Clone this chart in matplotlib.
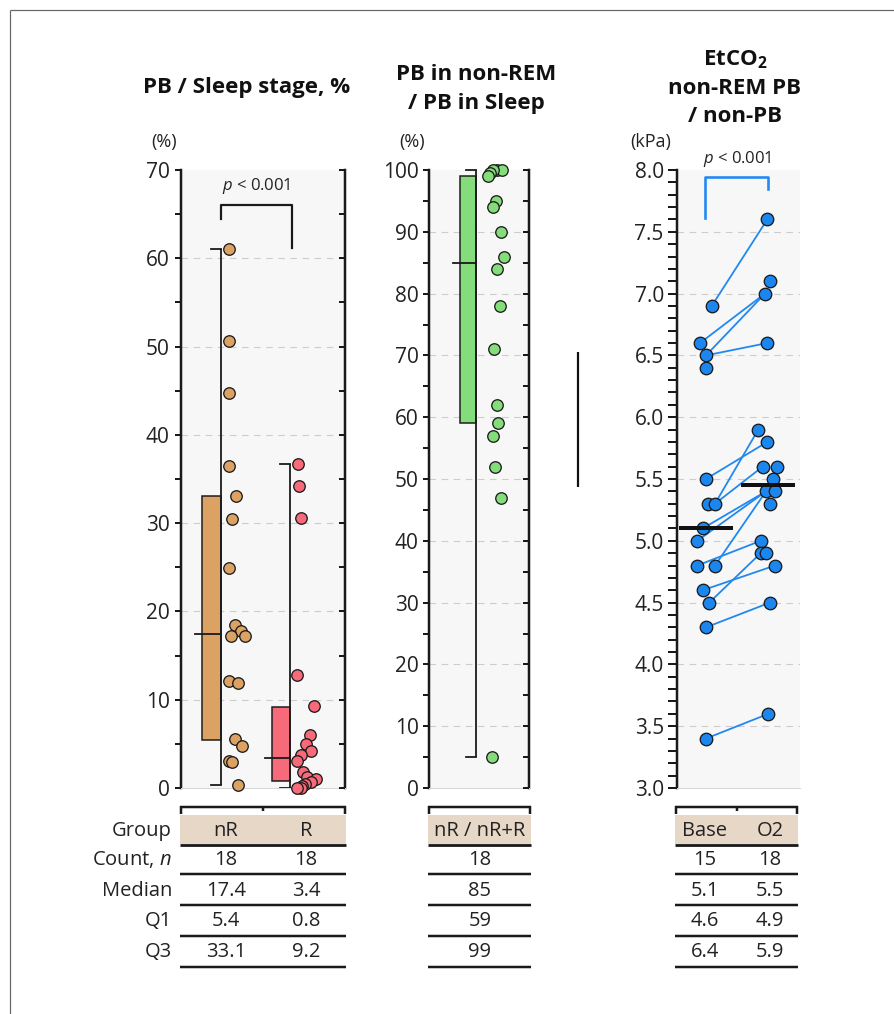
import matplotlib
matplotlib.use('Agg')
import matplotlib.pyplot as plt
from matplotlib.lines import Line2D
from matplotlib.patches import Rectangle
import numpy as np

# ---------------- data ----------------
# Panel 1: PB / Sleep stage (%)
nr_vals = [61.0, 50.6, 44.7, 36.5, 33.1, 30.5, 24.9, 18.5, 17.8, 17.2, 17.2,
           12.1, 11.9, 5.5, 4.8, 3.1, 3.0, 0.3]
r_vals = [36.7, 34.2, 30.6, 12.8, 9.3, 6.0, 5.0, 4.2, 3.7, 3.1, 1.8, 1.2,
          1.0, 0.7, 0.5, 0.2, 0.0, 0.0]
groups1 = ['nR', 'R']
counts1 = [18, 18]
medians1 = [17.4, 3.4]
q1s1 = [5.4, 0.8]
q3s1 = [33.1, 9.2]

# Panel 2: PB in non-REM / PB in Sleep (%)
nrr_vals = [100, 100, 100, 99.5, 99, 95, 94, 90, 86, 84, 78, 71, 62, 59, 57,
            52, 47, 5]
groups2 = ['nR / nR+R']
counts2 = [18]
medians2 = [85]
q1s2 = [59]
q3s2 = [99]

# Panel 3: EtCO2 (kPa)
base_vals = [6.9, 6.6, 6.5, 6.4, 5.5, 5.3, 5.3, 5.1, 5.0, 4.8, 4.8, 4.6, 4.5,
             4.3, 3.4]
o2_vals = [7.6, 7.1, 7.0, 6.6, 5.9, 5.8, 5.6, 5.6, 5.5, 5.4, 5.4, 5.3, 5.0,
           4.9, 4.9, 4.8, 4.5, 3.6]
pairs = [(0, 0), (1, 2), (2, 2), (2, 3), (4, 5), (6, 4), (6, 6), (7, 9),
         (8, 9), (10, 9), (9, 12), (11, 15), (12, 13), (13, 16), (14, 17)]
groups3 = ['Base', 'O2']
counts3 = [15, 18]
medians3 = [5.1, 5.5]
median_lines3 = [5.1, 5.45]
q1s3 = [4.6, 4.9]
q3s3 = [6.4, 5.9]

# ---------------- layout / style (jitter in px) ----------------
nr_jit = [8.3, 8.3, 8.3, 8.3, 14.7, 10.7, 8.3, 14, 20, 9.7, 23.7, 7.7, 17.3,
          14, 20.7, 7.7, 11, 17.3]
r_jit = [7.7, 9.3, 10.7, 7.3, 24, 20, 16, 20.7, 10.7, 6.7, 13.3, 16.7, 26, 21,
         15, 11.7, 10.7, 6.7]
nrr_jit = [20.7, 25.7, 17, 14, 12, 19.7, 16.7, 24.7, 28, 21.3, 24, 18, 20.7,
           22, 16.7, 19, 24.7, 16]
base_jit = [5.7, -6, 0, 0, 0, 2.3, 9, -3.3, -8.7, -8.7, 9, -3.3, 3.3, 0, 0]
o2_jit = [-0.7, 2, -3, -0.7, -9.7, -0.7, -5.3, 9.3, 4.7, -2, 7, 2, -7.3, -7.3,
          -2, 7, 2, 0.3]

C_NR = '#dba263'
C_R = '#f66a7a'
C_G = '#84dc7a'
C_B = '#1b86ee'
C_BL = '#2188f0'
BG = '#f7f7f7'
EDGE = '#1a1a1a'
BEIGE = '#e6d7c7'
TXT = '#222222'
FONT = 'Open Sans'

plt.rcParams['font.family'] = [FONT, 'DejaVu Sans']
plt.rcParams['mathtext.fontset'] = 'custom'
plt.rcParams['mathtext.rm'] = FONT
plt.rcParams['mathtext.it'] = FONT + ':italic'
plt.rcParams['mathtext.bf'] = FONT + ':bold'

W, H = 895, 1014
PX = 72 / 100.0  # points per pixel
fig = plt.figure(figsize=(W / 100, H / 100), dpi=100)

TICK_FS = 15
TABLE_FS = 14.5
TITLE_FS = 16
UNIT_FS = 13
P_FS = 12


def fx(x):
    return x / W


def fy(y):
    return 1 - y / H


def add_axes(l, r, t, b):
    ax = fig.add_axes([fx(l), fy(b), (r - l) / W, (b - t) / H])
    ax.set_facecolor(BG)
    ax.set_xlim(0, r - l)
    return ax


def fline(xs, ys, lw=2.5, color=EDGE, **kw):
    fig.add_artist(Line2D([fx(x) for x in xs], [fy(y) for y in ys],
                          lw=lw * PX, color=color, solid_capstyle='butt', **kw))


def style_axis(ax, ylim, major, minor, gridvals, right=True, tick_len=6,
               pad=4):
    ax.set_ylim(*ylim)
    ax.set_yticks(np.arange(ylim[0], ylim[1] + 1e-9, major))
    ax.set_yticks(np.arange(ylim[0], ylim[1] + 1e-9, minor), minor=True)
    ax.set_xticks([])
    ax.spines['top'].set_visible(False)
    ax.spines['bottom'].set_color('#d8d8d8')
    ax.spines['bottom'].set_linewidth(1 * PX)
    ax.spines['left'].set_linewidth(2.5 * PX)
    ax.spines['left'].set_color(EDGE)
    if right:
        ax.spines['right'].set_linewidth(2.5 * PX)
        ax.spines['right'].set_color(EDGE)
    else:
        ax.spines['right'].set_visible(False)
    ax.tick_params(axis='y', which='both', direction='out', left=True,
                   right=False, length=tick_len * PX, width=2 * PX,
                   color=EDGE, labelsize=TICK_FS, labelcolor=TXT, pad=pad)
    for g in gridvals:
        ax.axhline(g, color='#cdcdcd', lw=1.1 * PX, dashes=(6, 5), zorder=0)
    if right:
        tw = ax.twinx()
        tw.set_ylim(*ylim)
        tw.set_yticks(np.arange(ylim[0], ylim[1] + 1e-9, minor))
        tw.tick_params(axis='y', direction='in', length=6 * PX, width=2 * PX,
                       color=EDGE, labelright=False)
        for s in tw.spines.values():
            s.set_visible(False)


def boxplot(ax, pos, vals, q1, med, q3, color, bw=19):
    ax.add_patch(Rectangle((pos - bw, q1), bw, q3 - q1, facecolor=color,
                           edgecolor=EDGE, lw=1.5 * PX, zorder=2))
    lo, hi = min(vals), max(vals)
    ax.plot([pos, pos], [lo, hi], color=EDGE, lw=1.8 * PX, zorder=2,
            clip_on=False, solid_capstyle='butt')
    for v in (lo, hi):
        ax.plot([pos - 10, pos], [v, v], color=EDGE, lw=1.8 * PX, zorder=2,
                clip_on=False)
    ax.plot([pos - bw - 7, pos], [med, med], color=EDGE, lw=1.8 * PX,
            zorder=3)


def dots(ax, xs, vals, color, size=11.5):
    ax.scatter(xs, vals, s=(size * PX) ** 2, c=color, edgecolors=EDGE,
               linewidths=1.3 * PX, zorder=4, clip_on=False)


# ---------------- Panel 1 ----------------
ax1 = add_axes(181, 345, 170, 788)
style_axis(ax1, (0, 70), 10, 5, range(10, 70, 10))
pos1 = [40, 109]
for p, vals, jit, c, q1, md, q3 in zip(pos1, [nr_vals, r_vals],
                                        [nr_jit, r_jit], [C_NR, C_R],
                                        q1s1, medians1, q3s1):
    boxplot(ax1, p, vals, q1, md, q3, c, bw=19 if p == pos1[0] else 18)
    dots(ax1, [p + j for j in jit], vals, c)
ax1.plot([pos1[0], pos1[0], pos1[1] + 2, pos1[1] + 2],
         [64.5, 66.0, 66.0, 61.2], color=EDGE, lw=2.2 * PX, clip_on=False)
ax1.text((pos1[0] + pos1[1]) / 2 + 1, 68.2, r'$p$ < 0.001', ha='center',
         va='center', fontsize=P_FS, color=TXT)

# ---------------- Panel 2 ----------------
ax2 = add_axes(429, 529, 170, 788)
style_axis(ax2, (0, 100), 10, 5, range(10, 100, 10), pad=3)
pos2 = 47
boxplot(ax2, pos2, nrr_vals, q1s2[0], medians2[0], q3s2[0], C_G, bw=16)
dots(ax2, [pos2 + j for j in nrr_jit], nrr_vals, C_G)

# ---------------- Panel 3 ----------------
ax3 = add_axes(677, 800, 170, 788)
style_axis(ax3, (3.0, 8.0), 0.5, 0.1, np.arange(3.5, 8.0, 0.5), right=False,
           tick_len=9, pad=3)
ax3.set_yticklabels(['%.1f' % v for v in np.arange(3.0, 8.01, 0.5)])
pos3 = [29, 91]
bx = [pos3[0] + j for j in base_jit]
ox = [pos3[1] + j for j in o2_jit]
for bi, oi in pairs:
    ax3.plot([bx[bi], ox[oi]], [base_vals[bi], o2_vals[oi]], color=C_BL,
             lw=1.8 * PX, zorder=3)
dots(ax3, bx, base_vals, C_B, size=12.5)
dots(ax3, ox, o2_vals, C_B, size=12.5)
for p, m in zip(pos3, median_lines3):
    ax3.plot([p - 25, p + 25], [m, m], color='#111111', lw=4 * PX, zorder=5)
ax3.plot([pos3[0] - 1, pos3[0] - 1, pos3[1], pos3[1]],
         [7.61, 7.94, 7.94, 7.85], color=C_BL, lw=2.6 * PX, clip_on=False)
ax3.text((pos3[0] + pos3[1]) / 2, 8.09, r'$p$ < 0.001', ha='center',
         va='center', fontsize=P_FS, color=TXT, clip_on=False)

# ---------------- titles & units ----------------
tkw = dict(ha='center', va='center', fontsize=TITLE_FS, fontweight='bold',
           color='#111111')
fig.text(fx(247), fy(88), 'PB / Sleep stage, %', **tkw)
fig.text(fx(476), fy(75), 'PB in non-REM', **tkw)
fig.text(fx(476), fy(103), '/ PB in Sleep', **tkw)
fig.text(fx(735), fy(60), r'EtCO$_\mathbf{2}$', **tkw)
fig.text(fx(735), fy(88), 'non-REM PB', **tkw)
fig.text(fx(735), fy(117), '/ non-PB', **tkw)
ukw = dict(ha='center', va='center', fontsize=UNIT_FS, color=TXT)
fig.text(fx(164), fy(142), '(%)', **ukw)
fig.text(fx(412), fy(142), '(%)', **ukw)
fig.text(fx(651), fy(142), '(kPa)', **ukw)

# ---------------- tables ----------------
row_y = [860, 891, 921, 952]
line_y = [874, 905, 936, 967]
lab_kw = dict(ha='right', va='center', fontsize=TABLE_FS, color=TXT)
fig.text(fx(172), fy(831), 'Group', **lab_kw)
for y, lab in zip(row_y, [r'Count, $n$', 'Median', 'Q1', 'Q3']):
    fig.text(fx(172), fy(y), lab, **lab_kw)


def table(x0, x1, col_x, groups, counts, meds, q1, q3, mid=None, fmt='%g'):
    fline([x0, x1], [807, 807], lw=2.5)
    fline([x0 + 1, x0 + 1], [806, 814], lw=2.5)
    fline([x1 - 1, x1 - 1], [806, 814], lw=2.5)
    if mid is not None:
        fline([mid, mid], [806, 811], lw=2.5)
    fig.add_artist(Rectangle((fx(x0), fy(844)), (x1 - x0) / W, 29 / H,
                             facecolor=BEIGE, edgecolor='none'))
    fline([x0, x1], [845, 845], lw=2.8)
    for y in line_y:
        fline([x0, x1], [y, y], lw=2.5)
    ckw = dict(ha='center', va='center', fontsize=TABLE_FS, color=TXT)
    for i, cx in enumerate(col_x):
        fig.text(fx(cx), fy(831), groups[i], **ckw)
        fig.text(fx(cx), fy(row_y[0]), '%d' % counts[i], **ckw)
        fig.text(fx(cx), fy(row_y[1]), fmt % meds[i], **ckw)
        fig.text(fx(cx), fy(row_y[2]), fmt % q1[i], **ckw)
        fig.text(fx(cx), fy(row_y[3]), fmt % q3[i], **ckw)


table(180, 346, [226, 306], groups1, counts1, medians1, q1s1, q3s1, mid=263,
      fmt='%.1f')
table(428, 531, [480], groups2, counts2, medians2, q1s2, q3s2, fmt='%d')
table(675, 798, [705, 770], groups3, counts3, medians3, q1s3, q3s3, mid=737,
      fmt='%.1f')

# ---------------- frame & stray line ----------------
fline([10, 895], [10, 10], lw=1.2, color='#666666')
fline([10, 10], [10, 1014], lw=1.2, color='#666666')
fline([578, 578], [352, 487], lw=2.2, color='#111111')

fig.savefig('out.png', dpi=100, facecolor='white')
